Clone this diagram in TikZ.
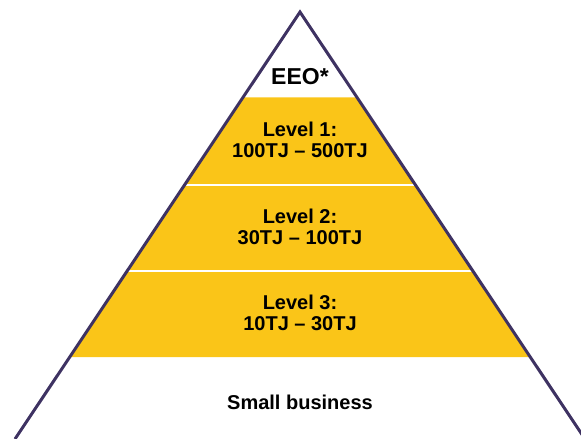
\documentclass[tikz,border=0pt]{standalone}
\usepackage{fontspec}
\setmainfont{Liberation Sans}
\usetikzlibrary{calc}
\definecolor{pyramidline}{RGB}{62,50,98}
\definecolor{levelgold}{RGB}{250,197,24}

\begin{document}
\begin{tikzpicture}[x=1pt, y=-1pt,
    leveltext/.style={font=\bfseries\fontsize{20}{21}\selectfont, align=center, inner sep=0pt}]
    \useasboundingbox (0,0) rectangle (581,439);
    \clip (0,0) rectangle (581,439);
    \coordinate (apex) at (300,12);
    \coordinate (bl) at (15,439);
    \coordinate (br) at (585,439);

    % Yellow levels with white dividers
    \fill[levelgold] ($(apex)!0.2!(bl)$) -- ($(apex)!0.2!(br)$) -- ($(apex)!0.808!(br)$) -- ($(apex)!0.808!(bl)$) -- cycle;
    \foreach \t in {0.404, 0.606}
        \draw[white, line width=2pt] ($(apex)!\t!(bl)$) -- ($(apex)!\t!(br)$);

    % Outline of the pyramid
    \draw[pyramidline, line width=3pt, line join=miter] (bl) -- (apex) -- (br);

    % Labels
    \node[leveltext] (eeo) at (300,77) {\fontsize{23}{24}\selectfont EEO*};
    \node[leveltext] (level1) at (300,140) {Level 1:\\100TJ \textendash{} 500TJ};
    \node[leveltext] (level2) at (300,227) {Level 2:\\30TJ \textendash{} 100TJ};
    \node[leveltext] (level3) at (300,313) {Level 3:\\10TJ \textendash{} 30TJ};
    \node[leveltext] (small) at (300,402) {Small business};
\end{tikzpicture}
\end{document}
